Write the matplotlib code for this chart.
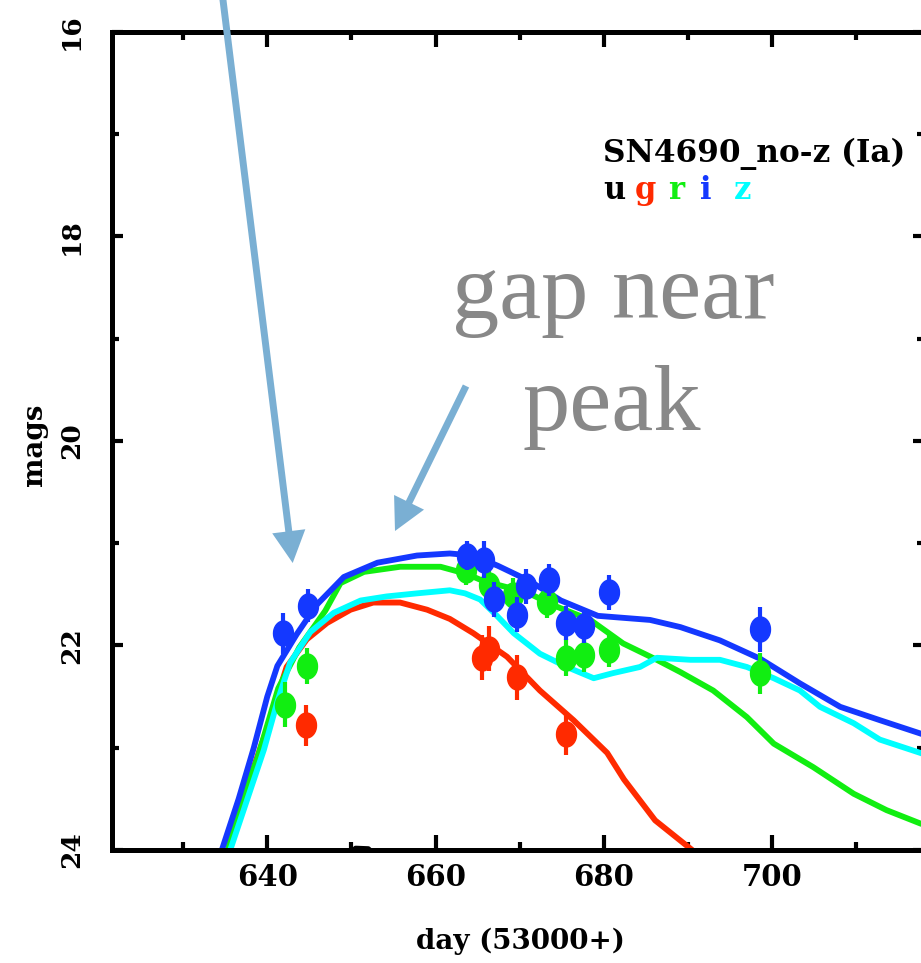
import numpy as np
import matplotlib
matplotlib.use("Agg")
import matplotlib.pyplot as plt
from matplotlib.ticker import MultipleLocator

# observed photometry (day - 53000, mag, error)
g_day = [644.6, 665.5, 666.3, 669.7, 675.5]
g_mag = [22.78, 22.12, 22.03, 22.31, 22.87]
g_err = [0.20, 0.22, 0.22, 0.22, 0.20]

r_day = [642.1, 644.7, 663.6, 666.3, 669.2, 673.3, 675.5, 677.6, 680.6, 698.6]
r_mag = [22.58, 22.20, 21.26, 21.41, 21.51, 21.57, 22.12, 22.09, 22.04, 22.27]
r_err = [0.22, 0.18, 0.15, 0.17, 0.17, 0.16, 0.18, 0.17, 0.17, 0.20]

i_day = [641.9, 644.8, 663.7, 665.8, 666.9, 669.7, 670.7, 673.5, 675.5, 677.6, 680.6, 698.6]
i_mag = [21.88, 21.61, 21.12, 21.16, 21.55, 21.70, 21.42, 21.36, 21.78, 21.81, 21.48, 21.84]
i_err = [0.20, 0.16, 0.14, 0.18, 0.17, 0.17, 0.17, 0.16, 0.17, 0.17, 0.17, 0.22]

# model light curves
u_mod_day = [649.3, 650.5, 652.0, 653.5]
u_mod_mag = [24.10, 23.985, 23.99, 24.10]

g_mod_day = [635.0, 635.4, 637.6, 640.2, 642.3, 644.7, 647.1, 649.9, 652.6, 655.8, 659.0,
             661.7, 664.5, 668.5, 672.4, 676.4, 680.4, 682.4, 686.1, 690.5, 691.0]
g_mod_mag = [24.2, 24.0, 23.38, 22.76, 22.21, 21.94, 21.78, 21.65, 21.58, 21.58, 21.65,
             21.74, 21.88, 22.11, 22.44, 22.73, 23.05, 23.31, 23.71, 24.0, 24.05]

r_mod_day = [634.9, 635.3, 636.5, 638.8, 641.3, 643.8, 646.9, 648.7, 651.5, 655.8, 660.6,
             663.7, 665.7, 668.5, 671.6, 674.4, 678.4, 682.3, 686.3, 689.1, 693.0, 697.0,
             700.2, 704.9, 709.7, 713.6, 717.6, 719.0]
r_mod_mag = [24.2, 24.0, 23.6, 23.11, 22.42, 22.02, 21.66, 21.39, 21.28, 21.23, 21.23,
             21.30, 21.37, 21.43, 21.51, 21.62, 21.75, 21.98, 22.14, 22.26, 22.44, 22.70,
             22.96, 23.19, 23.45, 23.61, 23.74, 23.78]

i_mod_day = [634.2, 634.6, 636.6, 638.4, 640.0, 641.2, 643.5, 645.9, 649.1, 653.1, 657.8,
             661.7, 664.5, 667.4, 671.2, 674.9, 679.3, 685.5, 689.1, 693.8, 698.6, 703.3,
             708.1, 712.8, 717.6, 719.0]
i_mod_mag = [24.2, 24.0, 23.5, 23.0, 22.5, 22.2, 21.89, 21.6, 21.33, 21.19, 21.12,
             21.10, 21.12, 21.22, 21.37, 21.56, 21.71, 21.75, 21.82, 21.95, 22.13, 22.37,
             22.60, 22.73, 22.86, 22.90]

z_mod_day = [635.2, 635.6, 637.6, 639.6, 641.2, 642.7, 645.1, 647.9, 651.1, 654.2, 657.8,
             661.7, 663.5, 665.3, 667.3, 669.3, 672.4, 675.6, 678.8, 681.1, 684.3, 686.3,
             690.3, 693.8, 697.0, 700.2, 703.3, 705.7, 709.7, 712.8, 717.6, 719.0]
z_mod_mag = [24.2, 24.0, 23.51, 23.02, 22.55, 22.17, 21.87, 21.68, 21.56, 21.52, 21.49,
             21.46, 21.49, 21.55, 21.71, 21.88, 22.08, 22.21, 22.32, 22.27, 22.21, 22.12,
             22.14, 22.14, 22.21, 22.32, 22.44, 22.60, 22.76, 22.92, 23.05, 23.09]

RED, GREEN, BLUE, CYAN = "#ff2a00", "#11ee11", "#1438ff", "#00ffff"
ARROW = "#7aafd3"

W, H = 921, 963
fig = plt.figure(figsize=(W / 100, H / 100), dpi=100)
ax_l, ax_r, ax_t, ax_b = 111.6, 924.0, 32.0, 850.0
ax = fig.add_axes([ax_l / W, (H - ax_b) / H, (ax_r - ax_l) / W, (ax_b - ax_t) / H])

# vertically stretched blob marker
th = np.linspace(0, 2 * np.pi, 41)
blob = list(zip(0.8 * np.cos(th), np.sin(th)))

ax.plot(u_mod_day, u_mod_mag, color="black", lw=4)
for d, m, c in [(g_mod_day, g_mod_mag, RED), (r_mod_day, r_mod_mag, GREEN),
                (z_mod_day, z_mod_mag, CYAN), (i_mod_day, i_mod_mag, BLUE)]:
    ax.plot(d, m, color=c, lw=4.2, solid_joinstyle="round")

for d, m, e, c in [(g_day, g_mag, g_err, RED), (r_day, r_mag, r_err, GREEN),
                   (i_day, i_mag, i_err, BLUE)]:
    ax.errorbar(d, m, yerr=e, fmt="none", ecolor=c, elinewidth=3, capsize=0)
    ax.plot(d, m, ls="none", marker=blob, ms=18, color=c, mec=c)

ax.set_xlim(621.5, 640 + (ax_r - 267) / 8.417)
ax.set_ylim(24, 16)
ax.xaxis.set_major_locator(MultipleLocator(20))
ax.xaxis.set_minor_locator(MultipleLocator(10))
ax.yaxis.set_major_locator(MultipleLocator(2))
ax.yaxis.set_minor_locator(MultipleLocator(1))
for s in ax.spines.values():
    s.set_linewidth(3.6)
ax.tick_params(axis="x", which="major", direction="in", length=11, width=3, top=True, pad=9)
ax.tick_params(axis="x", which="minor", direction="in", length=6, width=3, top=True)
ax.tick_params(axis="y", which="major", direction="in", length=8, width=3, right=True, pad=20)
ax.tick_params(axis="y", which="minor", direction="in", length=5, width=3, right=True)

tfont = dict(family="DejaVu Serif", weight="bold")
ax.set_xticks([640, 660, 680, 700])
ax.set_xticklabels(["640", "660", "680", "700"], fontsize=21, **tfont)
ax.set_yticks([16, 18, 20, 22, 24])
ax.set_yticklabels(["16", "18", "20", "22", "24"], fontsize=19, rotation=90, va="center", **tfont)

fig.text(520 / W, 1 - 941 / H, "day (53000+)", ha="center", va="center", fontsize=20, **tfont)
fig.text(34 / W, 1 - 445 / H, "mags", ha="center", va="center", rotation=90, fontsize=20, **tfont)

# legend text
fig.text(603 / W, 1 - 162 / H, "SN4690_no-z (Ia)", ha="left", va="baseline",
         fontsize=22.4, **tfont)
for x, lab, c in [(603, "u", "black"), (635, "g", RED), (668, "r", GREEN),
                  (700, "i", BLUE), (734, "z", CYAN)]:
    fig.text(x / W, 1 - 199 / H, lab, ha="left", va="baseline", fontsize=22, color=c, **tfont)

# annotation
gfont = dict(family="Liberation Serif", color="#888888", fontsize=68)
fig.text(613 / W, 1 - 318 / H, "gap near", ha="center", va="baseline", **gfont)
fig.text(612 / W, 1 - 430 / H, "peak", ha="center", va="baseline", **gfont)

for (x0, y0), (x1, y1) in [((222.0, -8.0), (292.7, 563.0)), ((466.0, 386.0), (395.0, 531.0))]:
    ax.annotate("", xy=(x1, H - y1), xycoords="figure pixels",
                xytext=(x0, H - y0), textcoords="figure pixels",
                arrowprops=dict(arrowstyle="simple,head_length=2.3,head_width=2.4,tail_width=0.5",
                                mutation_scale=10, color=ARROW, lw=0,
                                shrinkA=0, shrinkB=0),
                annotation_clip=False, zorder=10)

fig.savefig("out.png", dpi=100)
